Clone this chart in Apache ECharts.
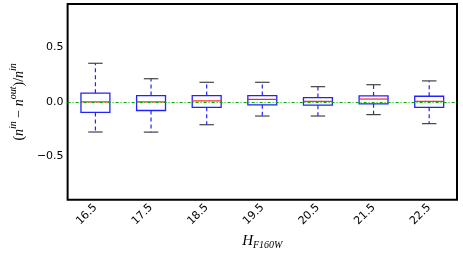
<!DOCTYPE html>
<html>
<head>
<meta charset="utf-8">
<script src="https://cdn.jsdelivr.net/npm/echarts@6/dist/echarts.min.js"></script>
<style>html,body{margin:0;padding:0;background:#fff}#c{width:463px;height:255px}</style>
</head>
<body>
<div id="c"></div>
<script>
const categories = ['16.5', '17.5', '18.5', '19.5', '20.5', '21.5', '22.5'];
const whiskerLow = [-0.277, -0.278, -0.21, -0.13, -0.13, -0.117, -0.2];
const q1 = [-0.097, -0.079, -0.05, -0.027, -0.03, -0.018, -0.05];
const median = [0.0, 0.0, 0.009, 0.023, 0.005, 0.026, 0.005];
const q3 = [0.08, 0.058, 0.058, 0.058, 0.04, 0.055, 0.052];
const whiskerHigh = [0.355, 0.213, 0.18, 0.18, 0.14, 0.158, 0.193];
const yTicks = [-0.5, 0, 0.5];

const rows = categories.map((c, i) => [i, whiskerLow[i], q1[i], median[i], q3[i], whiskerHigh[i]]);

const chart = echarts.init(document.getElementById('c'), null, {renderer: 'canvas'});
const fmt = v => (v < 0 ? '\u2212' : '') + Math.abs(v).toFixed(1);
const tickFont = {fontFamily: 'DejaVu Sans', fontSize: 11, color: '#000'};

chart.setOption({
  animation: false,
  grid: {left: 51, right: 6, top: 4, bottom: 47, show: true, borderColor: '#000', borderWidth: 2, backgroundColor: 'transparent'},
  xAxis: [{
    type: 'category', data: categories, position: 'bottom',
    axisLine: {show: false},
    axisTick: {inside: true, length: 4, alignWithLabel: true, lineStyle: {color: '#000'}},
    axisLabel: Object.assign({rotate: 45, margin: 6}, tickFont),
    splitLine: {show: false},
    name: '{i|H}{s|F160W}', nameLocation: 'middle', nameGap: 34,
    nameTextStyle: {rich: {
      i: {fontFamily: 'Liberation Serif', fontStyle: 'italic', fontSize: 15, color: '#000', verticalAlign: 'top', lineHeight: 16},
      s: {fontFamily: 'Liberation Serif', fontStyle: 'italic', fontSize: 10, color: '#000', verticalAlign: 'bottom', lineHeight: 16, padding: [6, 0, 0, 0]}
    }}
  }, {
    type: 'category', data: categories, position: 'top',
    axisLine: {show: false},
    axisTick: {inside: true, length: 4, alignWithLabel: true, lineStyle: {color: '#000'}},
    axisLabel: {show: false}, splitLine: {show: false}
  }],
  yAxis: [{
    type: 'value', min: -0.9, max: 0.9, position: 'left',
    axisLine: {show: false},
    axisTick: {inside: true, length: 4, customValues: yTicks, lineStyle: {color: '#000'}},
    axisLabel: Object.assign({customValues: yTicks, formatter: fmt, margin: 4}, tickFont),
    splitLine: {show: false},
    name: '{p|(}{i|n}{s|in}{p| \u2212 }{i|n}{s|out}{p|)/}{i|n}{s|in}',
    nameLocation: 'middle', nameGap: 26,
    nameTextStyle: {rich: {
      p: {fontFamily: 'Liberation Serif', fontSize: 14, color: '#000', lineHeight: 18, verticalAlign: 'bottom'},
      i: {fontFamily: 'Liberation Serif', fontStyle: 'italic', fontSize: 14, color: '#000', lineHeight: 18, verticalAlign: 'bottom'},
      s: {fontFamily: 'Liberation Serif', fontStyle: 'italic', fontSize: 10, color: '#000', lineHeight: 18, verticalAlign: 'top', padding: [0, 0, 6, 0]}
    }}
  }, {
    type: 'value', min: -0.9, max: 0.9, position: 'right',
    axisLine: {show: false},
    axisTick: {inside: true, length: 4, customValues: yTicks, lineStyle: {color: '#000'}},
    axisLabel: {show: false}, splitLine: {show: false}
  }],
  series: [{
    type: 'custom',
    xAxisIndex: 0, yAxisIndex: 0,
    data: rows,
    encode: {x: 0, y: [1, 2, 3, 4, 5]},
    renderItem: function (params, api) {
      const i = api.value(0);
      const cx = api.coord([i, 0])[0];
      const band = api.size([1, 0])[0];
      const bw = band * 0.52, cw = band * 0.26;
      const yL = api.coord([i, api.value(1)])[1];
      const y1 = api.coord([i, api.value(2)])[1];
      const ym = api.coord([i, api.value(3)])[1];
      const y3 = api.coord([i, api.value(4)])[1];
      const yH = api.coord([i, api.value(5)])[1];
      const blue = '#2222ff';
      return {type: 'group', children: [
        {type: 'line', shape: {x1: cx, y1: y3, x2: cx, y2: yH}, style: {stroke: blue, lineWidth: 1.2, lineDash: [4, 3]}},
        {type: 'line', shape: {x1: cx, y1: y1, x2: cx, y2: yL}, style: {stroke: blue, lineWidth: 1.2, lineDash: [4, 3]}},
        {type: 'line', shape: {x1: cx - cw / 2, y1: yH, x2: cx + cw / 2, y2: yH}, style: {stroke: '#444', lineWidth: 1.2}},
        {type: 'line', shape: {x1: cx - cw / 2, y1: yL, x2: cx + cw / 2, y2: yL}, style: {stroke: '#444', lineWidth: 1.2}},
        {type: 'rect', shape: {x: cx - bw / 2, y: y3, width: bw, height: y1 - y3}, style: {stroke: blue, fill: 'none', lineWidth: 1.3}},
        {type: 'line', shape: {x1: cx - bw / 2, y1: ym, x2: cx + bw / 2, y2: ym}, style: {stroke: '#ff2222', lineWidth: 1.2}}
      ]};
    },
    markLine: {
      silent: true, symbol: 'none', label: {show: false},
      lineStyle: {color: '#00b000', type: [3, 2, 1, 2], width: 1.2},
      data: [{yAxis: 0}]
    },
    z: 2
  }]
});
</script>
</body>
</html>
